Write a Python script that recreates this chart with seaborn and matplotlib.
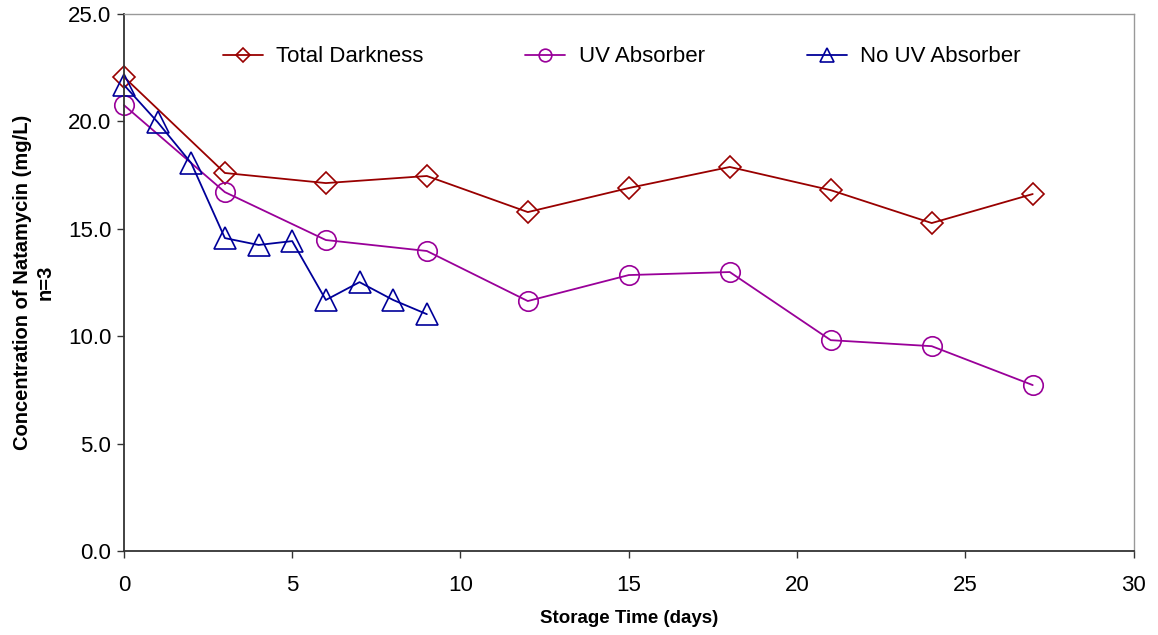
import pandas as pd
import matplotlib.pyplot as plt
import seaborn as sns
from matplotlib.ticker import FormatStrFormatter, MultipleLocator

# storage days and measured concentrations (mg/L)
days_long = [0, 3, 6, 9, 12, 15, 18, 21, 24, 27]
total_darkness = [22.07, 17.6, 17.13, 17.46, 15.78, 16.9, 17.88, 16.8, 15.27, 16.62]
uv_absorber = [20.76, 16.71, 14.48, 13.97, 11.64, 12.85, 12.99, 9.82, 9.54, 7.73]
days_short = [0, 1, 2, 3, 4, 5, 6, 7, 8, 9]
no_uv_absorber = [21.7, 19.97, 18.06, 14.57, 14.25, 14.43, 11.69, 12.52, 11.69, 11.03]

series = [
    ("Total Darkness", days_long, total_darkness, "#990000", "D", 11),
    ("UV Absorber", days_long, uv_absorber, "#990099", "o", 14),
    ("No UV Absorber", days_short, no_uv_absorber, "#000099", "^", 16),
]

sns.set_theme(style="white")
plt.rcParams['font.family'] = ['Liberation Sans', 'DejaVu Sans']
plt.rcParams['text.color'] = 'black'
plt.rcParams['axes.labelcolor'] = 'black'
plt.rcParams['xtick.color'] = 'black'
plt.rcParams['ytick.color'] = 'black'

fig = plt.figure(figsize=(11.58, 6.35), dpi=100)
ax = fig.add_axes([0.107, 0.132, 0.872, 0.846])

for name, x, y, col, mk, ms in series:
    df = pd.DataFrame({'day': x, 'conc': y})
    sns.lineplot(x='day', y='conc', data=df, ax=ax, color=col, marker=mk,
                 markersize=ms, markerfacecolor='none', markeredgecolor=col,
                 markeredgewidth=1.2, linewidth=1.3, label=name, clip_on=False)

ax.set_xlim(0, 30)
ax.set_ylim(0, 25)
ax.xaxis.set_major_locator(MultipleLocator(5))
ax.yaxis.set_major_locator(MultipleLocator(5))
ax.yaxis.set_major_formatter(FormatStrFormatter('%.1f'))
ax.tick_params(axis='both', which='major', labelsize=16, length=5, width=1,
               direction='out', color='#333333', pad=4)
ax.tick_params(axis='x', pad=12)
ax.tick_params(bottom=True, left=True)

for side in ['left', 'bottom']:
    ax.spines[side].set_color('#333333')
    ax.spines[side].set_linewidth(1.3)
for side in ['top', 'right']:
    ax.spines[side].set_color('#999999')
    ax.spines[side].set_linewidth(1.0)

ax.set_xlabel("Storage Time (days)", fontsize=13.5, fontweight='bold', labelpad=10)
ax.set_ylabel("Concentration of Natamycin (mg/L)\nn=3", fontsize=14.5,
              fontweight='bold', labelpad=10)

ax.legend(loc='center', bbox_to_anchor=(0.493, 0.92), ncol=3, frameon=False,
          fontsize=16, markerscale=0.65, handlelength=1.8, columnspacing=4.6,
          handletextpad=0.6)

fig.savefig("out.png", dpi=100)
